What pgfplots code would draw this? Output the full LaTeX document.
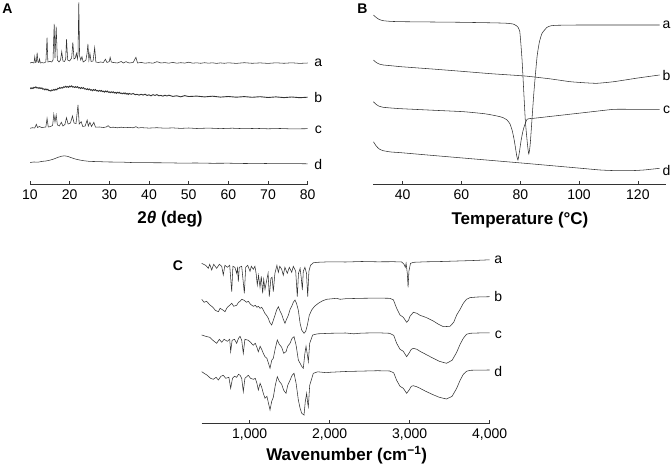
\documentclass[border=0pt]{standalone}
\usepackage{pgfplots}
\pgfplotsset{compat=1.18}
\usepackage{fontspec}
\setmainfont{Liberation Sans}

\newcommand{\tickfont}{\fontsize{14}{16}\selectfont}
\newcommand{\labfont}{\fontsize{17}{20}\selectfont\bfseries}

\pgfplotsset{
  spec/.style={
    scale only axis,
    axis x line*=bottom,
    axis y line=none,
    axis line style={-,black!80,line width=0.6pt},
    tick align=inside,
    major tick length=3pt,
    tick style={black!80,line width=0.6pt},
    xtick pos=bottom,
    minor tick num=0,
    /pgf/number format/assume math mode=true,
    ticklabel style={font=\tickfont},
    xticklabel style={yshift=-2pt},
    ymin=0,
    anchor=south west,
  },
  trace/.style={black!80,line width=0.55pt,no marks},
}

\begin{document}
\begin{tikzpicture}
\path[use as bounding box] (0pt,0pt) rectangle (671pt,463pt);

% ---------- A: XRD ----------
\begin{axis}[spec,at={(30pt,279pt)},width=277.7pt,height=184pt,
  xmin=10,xmax=80,ymax=184,xtick={10,20,...,80}]
% a
\addplot[trace] coordinates {(10,121)(10.5,121.6)(11,121)(11.2,127.3)(11.4,121.5)(11.6,122)(11.8,131.3)(12.0,122)(12.2,121.5)(12.4,125)(12.6,121)(13,121.4)(13.5,121)(14.0,122)(14.3,146.3)(14.5,122)(15,122.6)(15.5,122)(15.8,124)(16.1,160)(16.3,126)(16.6,157.3)(16.9,124)(17.3,122)(17.7,124)(18.0,132.3)(18.3,123)(18.7,122.5)(19.0,125)(19.2,144.7)(19.5,124)(20.0,123)(20.5,126)(20.8,141.7)(21.1,125)(21.4,126)(21.7,130.7)(21.95,125)(22.1,130)(22.3,181.7)(22.5,128)(22.8,124)(23.1,127.3)(23.4,122)(23.8,123)(24.1,124)(24.4,131)(24.6,140)(24.85,124)(25.1,130.7)(25.4,122.5)(25.9,123)(26.3,136.3)(26.6,122)(27.2,121.5)(27.8,122)(28.5,121.5)(29.0,124.7)(29.4,121.5)(30.0,122.5)(30.2,126.7)(30.5,122)(31,121.5)(32,121)(33,122.5)(33.5,121)(34.2,122.3)(35,121)(36,121.5)(36.7,126.7)(37.1,121)(38,121.6)(39,120.8)(40,121.3)(41,120.8)(42,122.3)(43,121)(44,121.4)(45,120.8)(46,121.6)(47,120.8)(48,121.3)(49,120.9)(50,121.8)(51,120.8)(52,121.2)(53,120.7)(54,121.3)(55,120.8)(56,121.2)(57,120.6)(58,121.1)(59,120.7)(60,121.2)(62,120.6)(64,121.3)(66,120.7)(68,121.1)(70,120.6)(72,121.2)(74,120.7)(76,121.2)(78,120.6)(80,121)};
% b
\addplot[trace,line width=0.9pt] coordinates {(10,96.3)(10.25,95.35)(10.5,96.2)(10.75,95.4)(11,96.7)(11.25,96.1)(11.5,97.1)(11.75,95.95)(12,96.4)(12.25,95.55)(12.5,96.4)(12.75,95.45)(13,96.1)(13.25,94.75)(13.5,95.2)(13.75,94.05)(14,95.0)(14.25,94.05)(14.5,94.7)(14.75,93.35)(15,93.6)(15.25,92.95)(15.5,94.0)(15.75,93.5)(16,94.6)(16.25,93.8)(16.5,94.8)(16.75,94.2)(17,95.7)(17.25,95.3)(17.5,96.5)(17.75,95.7)(18,96.5)(18.25,96.0)(18.5,97.2)(18.75,96.65)(19,97.7)(19.25,96.7)(19.5,97.5)(19.75,96.65)(20,97.9)(20.25,97.2)(20.5,98.1)(20.75,96.9)(21,97.3)(21.25,96.5)(21.5,97.4)(21.75,96.55)(22,97.3)(22.25,96.0)(22.5,96.5)(22.75,95.45)(23,96.5)(23.25,95.6)(23.5,96.3)(23.75,95.0)(24,95.3)(24.25,94.4)(24.5,95.2)(24.75,94.3)(25,95.0)(25.25,93.8)(25.5,94.35)(25.75,93.35)(26,94.4)(26.25,93.6)(26.5,94.4)(26.75,93.15)(27,93.55)(27.25,92.7)(27.5,93.6)(27.75,92.8)(28,93.55)(28.25,92.35)(28.5,92.9)(28.75,91.9)(29,93.0)(29.25,92.15)(29.5,92.95)(29.75,91.7)(30,92.1)(30.25,91.3)(30.5,92.2)(30.75,91.4)(31,92.2)(31.25,91.0)(31.5,91.65)(31.75,90.65)(32,91.75)(32.25,90.95)(32.5,91.75)(32.75,90.55)(33,90.95)(33.25,90.15)(33.5,91.05)(33.75,90.3)(34,91.1)(34.25,89.9)(34.5,90.5)(34.75,89.5)(35,90.6)(35.5,89.7)(36,90.5)(36.5,89.3)(37,89.65)(37.5,88.85)(38,89.75)(38.5,88.95)(39,89.75)(39.5,88.55)(40,89.2)(40.5,88.2)(41,89.35)(41.5,88.55)(42,89.4)(42.5,88.2)(43,88.6)(43.5,87.85)(44,88.75)(44.5,88.0)(45,88.8)(46,87.6)(47,88.2)(48,87.2)(49,88.35)(50,87.45)(52,87.9)(54,87.1)(56,87.8)(58,86.9)(60,87.5)(62,86.8)(64,87.4)(66,86.7)(68,87.3)(70,86.5)(72,87.1)(74,86.4)(76,87.0)(78,86.3)(80,86.8)};
% c
\addplot[trace] coordinates {(10,55.7)(10.6,56.3)(11.2,56)(11.6,59.7)(11.9,56.5)(12.4,57.5)(13,56.3)(13.6,56.8)(14.0,57)(14.3,65.7)(14.6,57)(15.2,57.5)(15.7,58.5)(16.0,69.7)(16.3,62)(16.6,69)(16.9,59)(17.4,58)(17.9,61.7)(18.3,58)(18.8,59.5)(19.2,66.3)(19.6,60)(20.2,61)(20.7,68)(21.1,61)(21.6,60.5)(22.1,79)(22.4,60)(22.9,62.3)(23.3,57.5)(23.9,58)(24.4,64)(24.7,58)(25.1,61.7)(25.5,57.5)(26.1,61.7)(26.5,56.8)(27.5,57)(28.5,56.5)(29.2,57)(29.7,58.3)(30.2,56.5)(31,56.8)(32,56.2)(33,56.8)(34,56.3)(35,56.6)(36,56.2)(36.7,57.3)(37.3,56)(38,56.4)(40,55.9)(42,56.3)(44,55.8)(46,56.1)(48,55.6)(50,56)(52,55.5)(55,55.9)(58,55.4)(61,55.8)(64,55.3)(67,55.6)(70,55.2)(73,55.5)(76,55.1)(80,55.3)};
% d
\addplot[trace] coordinates {(10,21.5)(11,22)(12,21.8)(13,22.6)(14,23)(15,23.8)(16,25)(17,26.6)(18,27.8)(18.7,28.2)(19.5,27.6)(20.5,26.2)(21.5,24.9)(22.5,24)(23.5,23.3)(25,22.6)(27,22.4)(30,22)(33,21.9)(36,21.4)(40,21.3)(44,21.2)(48,20.9)(52,21)(56,20.7)(60,20.8)(64,20.5)(68,20.6)(72,20.3)(76,20.4)(80,20.2)};
\end{axis}

% ---------- B: DSC ----------
\begin{axis}[spec,at={(373.3pt,279pt)},width=292.5pt,height=184pt,
  xmin=30,xmax=129.5,ymax=184,xtick={40,60,...,120}]
% a
\addplot[trace,smooth,tension=0.3] coordinates {(30,169)(31,166.5)(32,164.5)(33.4,163.3)(36,162.6)(40,162.3)(50,162)(60,161.7)(70,161.2)(75,160.8)(77.5,160)(78.8,158)(79.8,153)(80.6,124)(81.7,64)(82.5,38)(82.9,30)(83.4,40.7)(84.6,90.7)(85.7,127.3)(86.5,142)(87.4,150.7)(89.1,156.7)(90.6,158.3)(92.5,158.7)(100,159)(110,159)(120,159)(127.4,159)};
% b
\addplot[trace,smooth,tension=0.3] coordinates {(30,124)(31,121.5)(32,120)(33.4,119)(36,118.3)(39.4,117.3)(50,115)(60,112.7)(70,110.3)(81.5,108)(90,105.2)(97,102.3)(102,101.2)(106.1,100.7)(111.8,102.3)(120,106)(127.4,109)};
% c
\addplot[trace,smooth,tension=0.3] coordinates {(30,82.3)(31,79.5)(32,77.8)(33.4,76.7)(36,76)(39.4,75.3)(50,73.8)(60.7,72.3)(68,70.2)(72.1,68)(74,66.5)(75.5,64)(76.5,60)(77.2,54)(77.8,46)(78.3,37.3)(78.8,28)(79.2,24)(79.7,32)(80.3,44)(80.9,53)(81.5,59)(82.3,64.7)(83.5,65.5)(84.6,65.7)(90,67.5)(100,70.8)(109.5,74)(111.8,74.7)(120,74.7)(127.4,74.7)};
% d
\addplot[trace,smooth,tension=0.3] coordinates {(30,42.3)(31,38)(32,35)(33.4,33.3)(36,32)(39.4,31.3)(50,28.6)(60,26.1)(70,23.6)(80,21.1)(90,18.5)(100,15.9)(107.2,14)(112,13.4)(117.4,13.3)(122,14)(127.4,15.7)};
\end{axis}

% ---------- C: FTIR ----------
\begin{axis}[spec,at={(201.7pt,39.7pt)},width=288pt,height=175pt,
  xmin=400,xmax=4000,ymax=175,xtick={1000,2000,3000,4000},
  /pgf/number format/1000 sep={,}]
% a
\addplot[trace] coordinates {(400,160)(450,158)(483,155)(500,159)(525,153.3)(550,159)(587,155)(620,159)(650,157)(670,148.3)(690,158)(720,156)(750,158)(775,131.6)(790,157)(815,156)(837,150)(848,155)(858,141.6)(870,156)(900,157)(933,130)(950,156)(975,158)(1004,152)(1020,157)(1045,154)(1065,157)(1080,150)(1095,138.3)(1110,148)(1129,136)(1145,147)(1162,130)(1175,144)(1191,134)(1210,142)(1230,150)(1245,126.6)(1265,145)(1280,146)(1295,131.6)(1315,150)(1340,158)(1358,151)(1375,157)(1400,154)(1420,148)(1440,156)(1470,150)(1495,156)(1525,151)(1545,157)(1575,152)(1595,126.6)(1610,150)(1630,155)(1645,145)(1658,133.3)(1670,152)(1690,156)(1710,150)(1725,126.6)(1740,152)(1760,158)(1795,160.5)(1850,161)(2000,161.5)(2200,161.3)(2400,161.8)(2600,161.5)(2800,161.6)(2900,161.3)(2930,159)(2945,156)(2955,160)(2970,150)(2980,136)(2990,152)(3010,160)(3050,161)(3200,161.5)(3400,161.8)(3600,162.3)(3800,162.8)(4000,163.5)};
% b
\addplot[trace] coordinates {(400,124)(430,121)(460,122)(504,118.3)(540,116)(570,113)(608,111.6)(630,115)(650,114)(670,113)(691,111.6)(720,116)(750,118)(775,120)(800,117)(837,118)(860,121)(880,122)(900,124)(930,123)(960,121)(983,122)(1010,119)(1045,117)(1070,118)(1090,116)(1108,117)(1130,115)(1150,116)(1170,113.3)(1190,110)(1210,108)(1233,105)(1250,101)(1275,98.3)(1295,103)(1316,108)(1335,113)(1358,116.6)(1380,112)(1400,109)(1420,104)(1441,100)(1460,104)(1483,108)(1505,114)(1525,117)(1545,121)(1566,123.3)(1585,120)(1608,113)(1630,100)(1650,93.3)(1679,90)(1700,92)(1720,98)(1745,108)(1775,113.3)(1810,117)(1858,120)(1910,122.5)(1962,124)(2087,125)(2130,124)(2200,124.6)(2400,125)(2600,125.2)(2750,125)(2796,123.5)(2837,115)(2879,108.3)(2920,106)(2962,101)(2985,103)(3004,107)(3045,111)(3090,110)(3129,108)(3200,106)(3295,102.3)(3360,99)(3420,96.6)(3504,97)(3550,101)(3587,108.3)(3630,114)(3670,120)(3710,124)(3754,125.7)(3850,126.3)(4000,126.6)};
% c
\addplot[trace] coordinates {(400,88.3)(450,87)(500,86)(540,83)(587,80)(620,84)(650,81)(680,84)(720,82)(750,84)(762,71.6)(780,83)(810,84)(837,80)(860,85)(879,87)(900,83)(920,70)(940,84)(983,83)(1010,81)(1045,78)(1070,80)(1090,76)(1108,71.6)(1130,77)(1150,74)(1170,70)(1191,66.6)(1215,65)(1235,60)(1254,55)(1275,63)(1295,65)(1320,75)(1345,83.3)(1370,79)(1400,76)(1425,70)(1454,71.6)(1475,77)(1504,80)(1530,85)(1554,86.6)(1580,78)(1608,63.3)(1630,60)(1650,57)(1670,55)(1690,70)(1704,77)(1718,70)(1733,61.6)(1750,80)(1787,88.3)(1850,89.5)(2000,90)(2200,90.3)(2300,89.5)(2400,90.2)(2600,90.5)(2750,90)(2800,88)(2837,80)(2879,74)(2920,72)(2962,66.6)(2990,70)(3020,74)(3045,75)(3090,74)(3129,72)(3200,69)(3295,65)(3370,62)(3460,60)(3530,63)(3587,71)(3630,79)(3670,85)(3710,89)(3754,90)(3850,90.3)(4000,90.5)};
% d
\addplot[trace] coordinates {(400,51.6)(430,50)(470,48)(510,45)(545,44)(580,46)(608,43.3)(640,47)(670,48)(700,45)(740,46)(762,35)(785,45)(810,47)(837,46)(860,49)(880,48)(900,45)(920,31.6)(940,45)(983,48)(1010,45)(1045,44)(1070,45)(1090,40)(1108,33.3)(1130,40)(1150,36)(1170,30)(1191,25)(1215,27)(1235,20)(1254,13.3)(1275,22)(1295,26)(1320,38)(1345,46.6)(1370,42)(1400,39)(1425,33)(1454,30)(1475,38)(1504,43)(1530,48)(1554,50)(1580,40)(1608,23.3)(1630,15)(1650,10)(1679,8.3)(1695,22)(1712,30)(1725,20)(1733,16.6)(1750,38)(1795,50)(1850,51.5)(1962,50.6)(2000,51)(2200,51.8)(2400,52.2)(2600,52.6)(2750,52.3)(2800,50.5)(2837,43)(2879,37)(2920,35)(2962,30)(2990,33)(3020,37)(3045,37.6)(3090,36.5)(3129,35)(3200,32)(3295,28.5)(3370,26)(3460,24.3)(3530,27)(3587,35)(3630,43)(3670,49)(3710,52)(3754,53)(3850,53.2)(4000,53.3)};
\end{axis}

% panel letters
\node[font=\fontsize{14}{16}\selectfont\bfseries] at (7.5pt,454.5pt) {A};
\node[font=\fontsize{14}{16}\selectfont\bfseries] at (362.5pt,454pt) {B};
\node[font=\fontsize{14}{16}\selectfont\bfseries] at (178pt,197.2pt) {C};

% axis titles
\node[font=\labfont] at (170pt,244pt) {2\textit{θ} (deg)};
\node[font=\labfont] at (520pt,243pt) {Temperature (°C)};
\node[font=\labfont] at (346.7pt,8pt) {Wavenumber (cm\textsuperscript{−1})};

% curve labels
\begin{scope}[every node/.style={font=\tickfont,inner sep=0pt}]
\node at (318.3pt,400pt) {a};
\node at (318.3pt,365pt) {b};
\node at (318.3pt,333pt) {c};
\node at (318.3pt,299pt) {d};
\node at (666.5pt,438pt) {a};
\node at (666.5pt,387pt) {b};
\node at (666.5pt,353pt) {c};
\node at (666.5pt,293pt) {d};
\node at (498.3pt,203pt) {a};
\node at (498.3pt,166.3pt) {b};
\node at (498.3pt,128pt) {c};
\node at (498.3pt,91.3pt) {d};
\end{scope}
\end{tikzpicture}
\end{document}
